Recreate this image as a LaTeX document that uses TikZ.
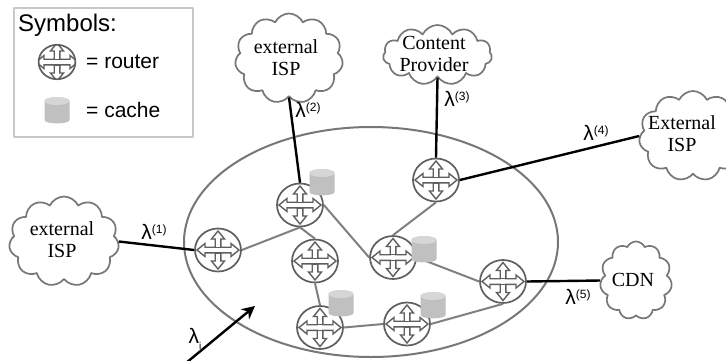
\documentclass[tikz,border=0pt]{standalone}
\usepackage{fontspec}
\setmainfont{Liberation Serif}
\setsansfont{Liberation Sans}
\usetikzlibrary{shapes.geometric,shapes.symbols,arrows.meta}
\definecolor{ringgray}{HTML}{777777}
\definecolor{linkgray}{HTML}{808080}
\definecolor{routergray}{HTML}{5F5F5F}
\definecolor{boxgray}{HTML}{C8C8C8}
\definecolor{cachebody}{HTML}{C0C0C0}
\definecolor{cachetop}{HTML}{D6D6D6}
\newcommand{\lamlabel}[1]{λ\raisebox{.3em}{\fontsize{12}{12}\selectfont(#1)}}
\tikzset{
    router/.style={ellipse, draw=routergray, line width=1.7pt, fill=white, inner sep=0pt,
        minimum width={46pt*#1}, minimum height={43pt*#1},
        path picture={
            \draw[routergray, line width=1.4pt, fill=white, line join=miter, shift={(path picture bounding box.center)}, scale=#1]
                (2.8,-2.8)--(2.8,-11)--(6.5,-11)--(0,-19)--(-6.5,-11)--(-2.8,-11)--(-2.8,-2.8)--(-13,-2.8)--(-13,-6.5)--(-21,0)
                --(-13,6.5)--(-13,2.8)--(-2.8,2.8)--(-2.8,11)--(-6.5,11)--(0,19)--(6.5,11)--(2.8,11)--(2.8,2.8)--(13,2.8)--(13,6.5)--(21,0)--(13,-6.5)--(13,-2.8)--cycle;
            \draw[routergray, line width=1.4pt, shift={(path picture bounding box.center)}, scale=#1]
                (-2.8,-2.8)--(2.8,-2.8) (-2.8,2.8)--(2.8,2.8);
        }},
    router/.default=1,
    cache/.style={rectangle, inner sep=0pt, minimum width=25pt, minimum height=26pt,
        path picture={
            \fill[cachebody, shift={(path picture bounding box.center)}]
                (-12.5,-9)--(-12.5,10) .. controls (-12.5,14.5) and (12.5,14.5) .. (12.5,10)
                --(12.5,-9) .. controls (12.5,-14) and (-12.5,-14) .. (-12.5,-9);
            \fill[cachetop, shift={(path picture bounding box.center)}] (0,-9) ellipse (12.5 and 4);
        }},
    puff/.style={cloud, cloud puffs=11, cloud puff arc=130, cloud ignores aspect, draw=ringgray, line width=1.7pt, inner sep=0pt},
    cloudtext/.style={align=center, font=\fontsize{20}{22}\selectfont},
    lamtext/.style={font=\sffamily\fontsize{21}{24}\selectfont, inner sep=0pt},
    legendtext/.style={font=\sffamily\fontsize{21}{24}\selectfont, anchor=west, inner sep=0pt},
    uplink/.style={black, line width=2.4pt},
    innerlink/.style={linkgray, line width=2pt},
}
\begin{document}
\begin{tikzpicture}[x=1pt, y=-1pt, line join=round]
    \path[use as bounding box, clip] (0,0) rectangle (726,360);
    \fill[white] (0,0) rectangle (726,360);

    % legend
    \node[draw=boxgray, line width=2pt, minimum width=179pt, minimum height=129pt, inner sep=0pt] (legend) at (103.5,72.5) {};
    \node[legendtext, font=\sffamily\fontsize{24}{26}\selectfont] (symbols) at (18,25) {Symbols:};
    \node[router=.8] (legendrouter) at (57,62) {};
    \node[legendtext] (routertext) at (86,62) {= router};
    \node[cache] (legendcache) at (57,110) {};
    \node[legendtext] (cachetext) at (86,110) {= cache};

    \node[ellipse, draw=ringgray, line width=2pt, minimum width=374pt, minimum height=230pt, inner sep=0pt] (domain) at (371,242) {};

    \node[router] (r1) at (218,250) {};
    \node[router] (r2) at (300,205) {};
    \node[router] (r3) at (315,261) {};
    \node[router] (r4) at (320,327.5) {};
    \node[router] (r5) at (407,324) {};
    \node[router] (r6) at (393,257.5) {};
    \node[router] (r7) at (503,281.5) {};
    \node[router] (r8) at (436,180) {};

    \draw[innerlink] (r1.east)--(r2.south)--(r3.north) (r3.south)--(r4.north) (r4.east)--(r5.west);
    \draw[innerlink] (r5.east)--(r7.south) (r6.east)--(r7.west) (r6.north)--(r8.south) (r2.east)--(r6.west);

    \node[cache] (c1) at (322,182) {};
    \node[cache] (c2) at (424,249) {};
    \node[cache] (c3) at (341,303) {};
    \node[cache] (c4) at (433,305) {};

    \node[puff, minimum width=110pt, minimum height=90pt] (isp1) at (64,241.5) {};
    \node[puff, minimum width=108pt, minimum height=90pt] (isp2) at (289,58.5) {};
    \node[puff, minimum width=109pt, minimum height=60pt] (provider) at (437.5,55) {};
    \node[puff, minimum width=108pt, minimum height=90pt] (isp4) at (693,136) {};
    \node[puff, minimum width=72pt, minimum height=78pt] (cdn) at (636,280.5) {};

    \node[cloudtext] (isp1text) at (62,240) {external\\ISP};
    \node[cloudtext] (isp2text) at (286,58) {external\\ISP};
    \node[cloudtext] (providertext) at (434,54) {Content\\Provider};
    \node[cloudtext] (isp4text) at (682,134) {External\\ISP};
    \node[cloudtext] (cdntext) at (633,280) {CDN};

    \draw[uplink] (isp1.east)--(r1.west);
    \draw[uplink] (isp2.south)--(r2.north);
    \draw[uplink] (provider.south)--(r8.north);
    \draw[uplink] (r8.east)--(isp4.west);
    \draw[uplink] (r7.east)--(cdn.west);

    \node[lamtext] (lam1) at (154,232) {\lamlabel{1}};
    \node[lamtext] (lam2) at (308,110) {\lamlabel{2}};
    \node[lamtext] (lam3) at (457,99) {\lamlabel{3}};
    \node[lamtext] (lam4) at (596,133) {\lamlabel{4}};
    \node[lamtext] (lam5) at (578,297) {\lamlabel{5}};
    \node[lamtext] (lami) at (195,339) {λ\raisebox{-.25em}{\fontsize{10}{10}\selectfont i}};

    \coordinate (instart) at (186,363);
    \coordinate (inend) at (255,306);
    \draw[-{Stealth[length=13pt, width=13pt]}, black, line width=2.4pt] (instart)--(inend);
\end{tikzpicture}
\end{document}
